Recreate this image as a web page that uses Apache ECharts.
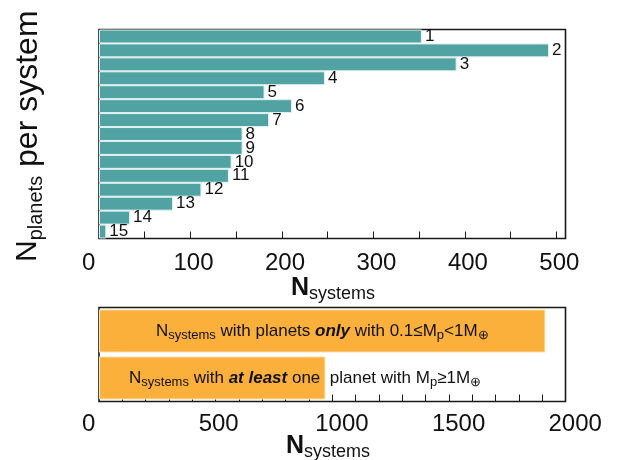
<!DOCTYPE html>
<html>
<head>
<meta charset="utf-8">
<script src="https://cdn.jsdelivr.net/npm/echarts@6/dist/echarts.min.js"></script>
<style>
html,body{margin:0;padding:0;background:#fff;}
#c{width:619px;height:460px;}
</style>
</head>
<body>
<div id="c"></div>
<script>
// ---- data ----
const planetCounts = ['1','2','3','4','5','6','7','8','9','10','11','12','13','14','15'];
const systemsPerMultiplicity = [353, 492, 391, 247, 181, 211, 186, 157, 157, 145, 142, 112, 81, 34, 8];
const massClasses = ['only small planets', 'at least one large planet'];
const systemsByMass = [1914, 971];
const topAxisMax = 510;
const bottomAxisMax = 2000;

const FONT = '"Liberation Sans", Arial, Helvetica, sans-serif';
const TEAL = '#51a3a3';
const ORANGE = '#fbb03b';
const FRAME = '#1a1a1a';

const chart = echarts.init(document.getElementById('c'), null, {renderer: 'canvas'});

const G0 = {left: 99, top: 29.5, width: 466.5, height: 209};
const G1 = {left: 99, top: 307.5, width: 466.5, height: 94};

const inBarRich = {
  N: {fontSize: 17, fontFamily: FONT, color: '#111', lineHeight: 21},
  s: {fontSize: 13, fontFamily: FONT, color: '#111', lineHeight: 16, verticalAlign: 'bottom'},
  t: {fontSize: 17, fontFamily: FONT, color: '#111', lineHeight: 21},
  bi: {fontSize: 17, fontFamily: FONT, color: '#111', lineHeight: 21, fontWeight: 'bold', fontStyle: 'italic'}
};

const option = {
  backgroundColor: '#ffffff',
  animation: false,
  grid: [
    Object.assign({show: true, borderColor: FRAME, borderWidth: 1.6, backgroundColor: '#fff'}, G0),
    Object.assign({show: true, borderColor: FRAME, borderWidth: 1.6, backgroundColor: '#fff'}, G1),
    {left: G0.left - 17, top: G0.top, width: G0.width, height: G0.height, show: false},
    {left: G1.left - 17, top: G1.top, width: G1.width, height: G1.height, show: false}
  ],
  xAxis: [
    {gridIndex: 0, type: 'value', min: 0, max: topAxisMax, interval: 50,
     axisLine: {show: false}, splitLine: {show: false}, axisLabel: {show: false},
     axisTick: {show: true, inside: true, length: 7, lineStyle: {color: FRAME, width: 1}}},
    {gridIndex: 1, type: 'value', min: 0, max: bottomAxisMax, interval: 100,
     axisLine: {show: false}, splitLine: {show: false}, axisLabel: {show: false},
     axisTick: {show: true, inside: true, length: 7, lineStyle: {color: FRAME, width: 1}}},
    {gridIndex: 2, type: 'value', min: 0, max: topAxisMax, interval: 100,
     axisLine: {show: false}, axisTick: {show: false}, splitLine: {show: false},
     axisLabel: {show: true, align: 'left', margin: 13, fontSize: 24, fontFamily: FONT, color: '#111',
       formatter: v => (v % 100 === 0 ? String(v) : '')}},
    {gridIndex: 3, type: 'value', min: 0, max: bottomAxisMax, interval: 500,
     axisLine: {show: false}, axisTick: {show: false}, splitLine: {show: false},
     axisLabel: {show: true, align: 'left', margin: 11, fontSize: 24, fontFamily: FONT, color: '#111',
       showMaxLabel: true, formatter: v => String(v)}}
  ],
  yAxis: [
    {gridIndex: 0, type: 'category', data: planetCounts, inverse: true,
     axisLine: {show: false}, axisTick: {show: false}, axisLabel: {show: false}, splitLine: {show: false}},
    {gridIndex: 1, type: 'category', data: massClasses, inverse: true,
     axisLine: {show: false}, axisTick: {show: false}, axisLabel: {show: false}, splitLine: {show: false}},
    {gridIndex: 2, type: 'value', show: false},
    {gridIndex: 3, type: 'value', show: false}
  ],
  series: [
    {
      type: 'bar', xAxisIndex: 0, yAxisIndex: 0,
      data: systemsPerMultiplicity,
      barCategoryGap: '0%',
      itemStyle: {color: TEAL, borderColor: '#e2f1f1', borderWidth: 1},
      label: {show: true, position: 'right', distance: 3, formatter: '{b}',
        fontSize: 17, fontFamily: FONT, color: '#111'}
    },
    {
      type: 'bar', xAxisIndex: 1, yAxisIndex: 1,
      data: [
        {value: systemsByMass[0], label: {position: 'inside',
          formatter: '{N|N}{s|systems}{t| with planets }{bi|only}{t| with 0.1≤M}{s|p}{t|<1M}{s|⊕}'}},
        {value: systemsByMass[1], label: {position: 'insideLeft', distance: 30,
          formatter: '{N|N}{s|systems}{t| with }{bi|at least}{t| one  planet with M}{s|p}{t|≥1M}{s|⊕}'}}
      ],
      barCategoryGap: '8%',
      itemStyle: {color: ORANGE, borderColor: '#fde6bf', borderWidth: 1},
      label: {show: true, rich: inBarRich, fontSize: 17, fontFamily: FONT, color: '#111'}
    }
  ],
  graphic: [
    {type: 'text', x: 333, y: 273,
     style: {text: '{N|N}{s|systems}', align: 'center', verticalAlign: 'top',
       rich: {N: {fontSize: 25, fontWeight: 'bold', fontFamily: FONT, fill: '#111', lineHeight: 30},
              s: {fontSize: 18, fontFamily: FONT, fill: '#111', lineHeight: 19, verticalAlign: 'bottom'}}}},
    {type: 'text', x: 328, y: 431,
     style: {text: '{N|N}{s|systems}', align: 'center', verticalAlign: 'top',
       rich: {N: {fontSize: 25, fontWeight: 'bold', fontFamily: FONT, fill: '#111', lineHeight: 30},
              s: {fontSize: 18, fontFamily: FONT, fill: '#111', lineHeight: 19, verticalAlign: 'bottom'}}}},
    {type: 'text', x: 28, y: 262, rotation: Math.PI / 2,
     style: {text: '{N|N}{s|planets}{P| per system}', align: 'left', verticalAlign: 'middle',
       rich: {N: {fontSize: 30, fontFamily: FONT, fill: '#111', lineHeight: 36},
              P: {fontSize: 32, fontFamily: FONT, fill: '#111', lineHeight: 36},
              s: {fontSize: 20, fontFamily: FONT, fill: '#111', lineHeight: 20, verticalAlign: 'bottom'}}}}
  ]
};
chart.setOption(option);
</script>
</body>
</html>
